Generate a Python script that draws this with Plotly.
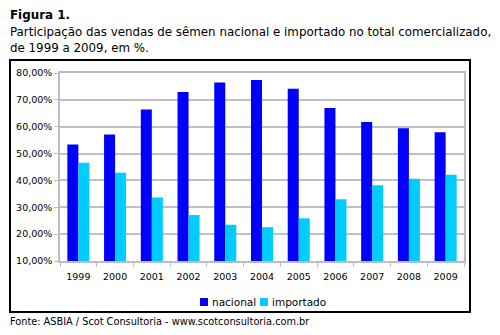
import plotly.graph_objects as go

anos = ["1999", "2000", "2001", "2002", "2003", "2004", "2005", "2006", "2007", "2008", "2009"]
nacional = [53.4, 57.1, 66.4, 72.9, 76.5, 77.4, 74.1, 67.0, 61.8, 59.4, 57.9]
importado = [46.6, 42.9, 33.6, 27.1, 23.5, 22.6, 25.9, 33.0, 38.2, 40.6, 42.1]
series_names = ["nacional", "importado"]
series_colors = ["#0000FF", "#00CCFF"]
y_ticks = [10, 20, 30, 40, 50, 60, 70, 80]
y_tick_labels = ["10,00%", "20,00%", "30,00%", "40,00%", "50,00%", "60,00%", "70,00%", "80,00%"]

FONT = "DejaVu Sans"
W, H = 500, 335
L, R, T, B = 60, 36, 73, 74
pw, ph = W - L - R, H - T - B


def px(x):
    return (x - L) / pw


def py(y):
    return (H - B - y) / ph


fig = go.Figure()
for name, vals, color in zip(series_names, [nacional, importado], series_colors):
    fig.add_trace(go.Bar(x=anos, y=vals, name=name, marker=dict(color=color, line=dict(width=0))))

fig.update_layout(
    width=W, height=H,
    margin=dict(l=L, r=R, t=T, b=B),
    paper_bgcolor="white", plot_bgcolor="white",
    barmode="group", bargap=0.4, bargroupgap=0,
    font=dict(family=FONT, size=10, color="black"),
    showlegend=False,
    xaxis=dict(type="category", showgrid=False, showline=True, linecolor="#BDBDBD", linewidth=1.5,
               mirror=True, ticks="outside", tickson="boundaries", ticklen=4, tickcolor="#BDBDBD",
               ticklabelstandoff=6, tickfont=dict(family=FONT, size=9.5)),
    yaxis=dict(range=[10, 80], tickvals=y_ticks, ticktext=y_tick_labels, showgrid=True,
               gridcolor="#C0C0C0", gridwidth=1.5, showline=True, linecolor="#BDBDBD", linewidth=1.5,
               mirror=True, ticks="outside", ticklen=4, tickcolor="#BDBDBD", zeroline=False,
               tickfont=dict(family=FONT, size=9.5)),
)

# outer frame around the chart
fig.add_shape(type="rect", xref="paper", yref="paper",
              x0=px(10), x1=px(470), y0=py(312), y1=py(60),
              line=dict(color="black", width=2), layer="below")

# legend: small colour squares followed by the series names
legend_x = [200, 260]
for x0, name, color in zip(legend_x, series_names, series_colors):
    fig.add_shape(type="rect", xref="paper", yref="paper",
                  x0=px(x0), x1=px(x0 + 8), y0=py(306), y1=py(298),
                  line=dict(width=0), fillcolor=color)
    fig.add_annotation(text=name, xref="paper", yref="paper", x=px(x0 + 10), y=py(302),
                       xanchor="left", yanchor="middle", showarrow=False,
                       font=dict(family=FONT, size=10.5, color="black"))

fig.add_annotation(text="<b>Figura 1.</b>", xref="paper", yref="paper", x=px(8), y=py(15),
                   xanchor="left", yanchor="middle", showarrow=False,
                   font=dict(family=FONT, size=11.9, color="black"))
fig.add_annotation(text="Participação das vendas de sêmen nacional e importado no total comercializado,",
                   xref="paper", yref="paper", x=px(8), y=py(32), xanchor="left", yanchor="middle",
                   showarrow=False, font=dict(family=FONT, size=11.85, color="black"))
fig.add_annotation(text="de 1999 a 2009, em %.", xref="paper", yref="paper", x=px(8), y=py(48),
                   xanchor="left", yanchor="middle", showarrow=False,
                   font=dict(family=FONT, size=11.85, color="black"))
fig.add_annotation(text="Fonte: ASBIA / Scot Consultoria - www.scotconsultoria.com.br",
                   xref="paper", yref="paper", x=px(8), y=py(321), xanchor="left", yanchor="middle",
                   showarrow=False, font=dict(family=FONT, size=9.75, color="black"))

fig.write_html("out.html")
